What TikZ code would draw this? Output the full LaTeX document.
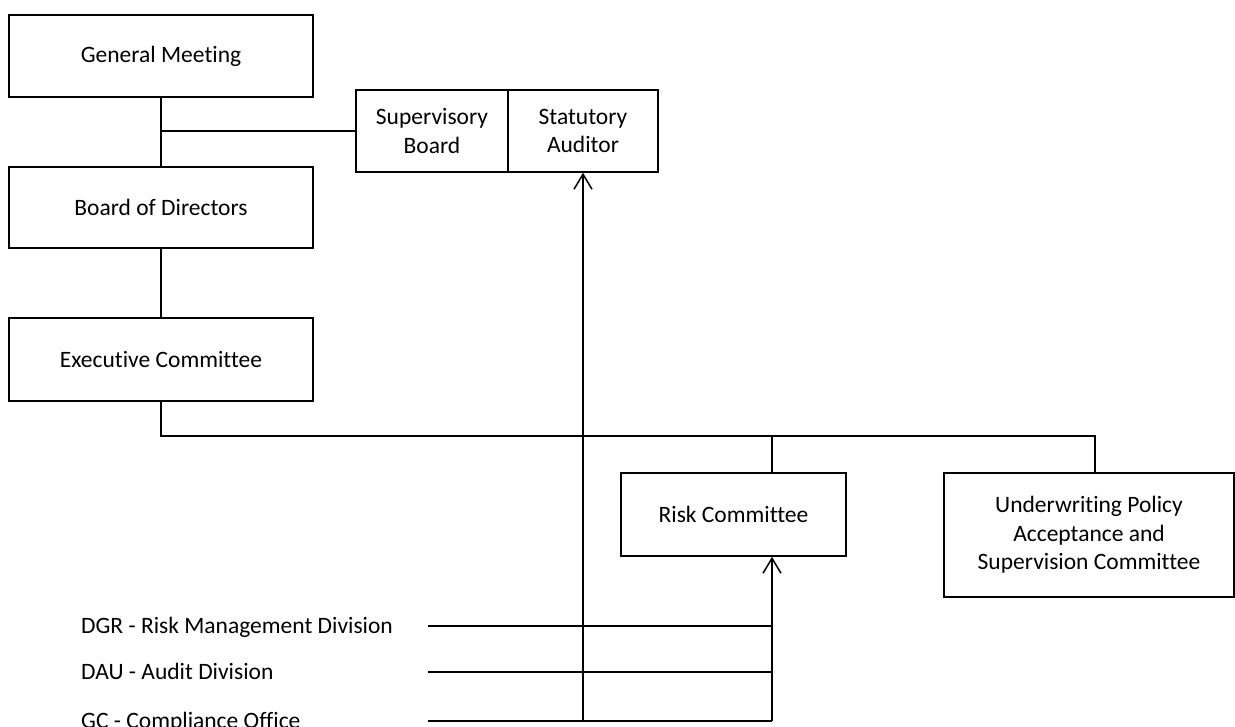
\documentclass[tikz,border=0pt]{standalone}
\usepackage{fontspec}
\setmainfont{Carlito}[Ligatures={NoCommon,NoContextual},Contextuals=AlternateOff]
\usetikzlibrary{arrows.meta}
\begin{document}
\begin{tikzpicture}[x=1pt,y=-1pt,
  box/.style={draw,line width=1.6pt,rectangle,inner sep=0pt,align=center,
    font=\fontsize{23.5}{28.5}\selectfont},
  lbl/.style={inner sep=0pt,anchor=base west,font=\fontsize{23.5}{28.5}\selectfont},
  conn/.style={line width=1.5pt},
  arr/.style={line width=1.5pt,-{Straight Barb[length=15pt,width=18pt,line width=1.5pt]}}
]
\useasboundingbox (0,0) rectangle (1235,726);
% boxes
\node[box,minimum width=304pt,minimum height=82pt] (gm) at (161,56) {General Meeting};
\node[box,minimum width=304pt,minimum height=81pt] (bod) at (161,207.5) {Board of Directors};
\node[box,minimum width=304pt,minimum height=83pt] (exec) at (161,359.5) {Executive Committee};
\node[box,minimum width=152pt,minimum height=82pt] (sup) at (432,131) {Supervisory\\Board};
\node[box,minimum width=150pt,minimum height=82pt] (stat) at (583,131) {Statutory\\Auditor};
\node[box,minimum width=225pt,minimum height=83pt] (risk) at (733.5,514.5) {Risk Committee};
\node[box,minimum width=290pt,minimum height=124pt] (uw) at (1089,535) {Underwriting Policy\\Acceptance and\\Supervision Committee};
% division labels
\node[lbl] (dgr) at (81,633) {DGR - Risk Management Division};
\node[lbl] (dau) at (81,679) {DAU - Audit Division};
\node[lbl] (gc) at (81,728) {GC - Compliance Office};
% helper coordinates
\coordinate (j1) at (161,131);
\coordinate (hb) at (1095,436);
\coordinate (rc) at (772,436);
\coordinate (dgrL) at (428,626);
\coordinate (dauL) at (428,672);
\coordinate (gcL) at (428,721);
\coordinate (ra) at (772,721);
% connectors
\draw[conn] (gm) -- (bod);
\draw[conn] (bod) -- (exec);
\draw[conn] (j1) -- (sup.west);
\draw[conn] (exec.south) |- (hb) -- (hb |- uw.north);
\draw[conn] (rc) -- (rc |- risk.north);
\draw[conn] (dgrL) -- (dgrL -| ra);
\draw[conn] (dauL) -- (dauL -| ra);
\draw[conn] (gcL) -- (ra);
\draw[arr] (gcL -| stat.south) -- (stat.south);
\draw[arr] (ra) -- (ra |- risk.south);
\end{tikzpicture}
\end{document}
